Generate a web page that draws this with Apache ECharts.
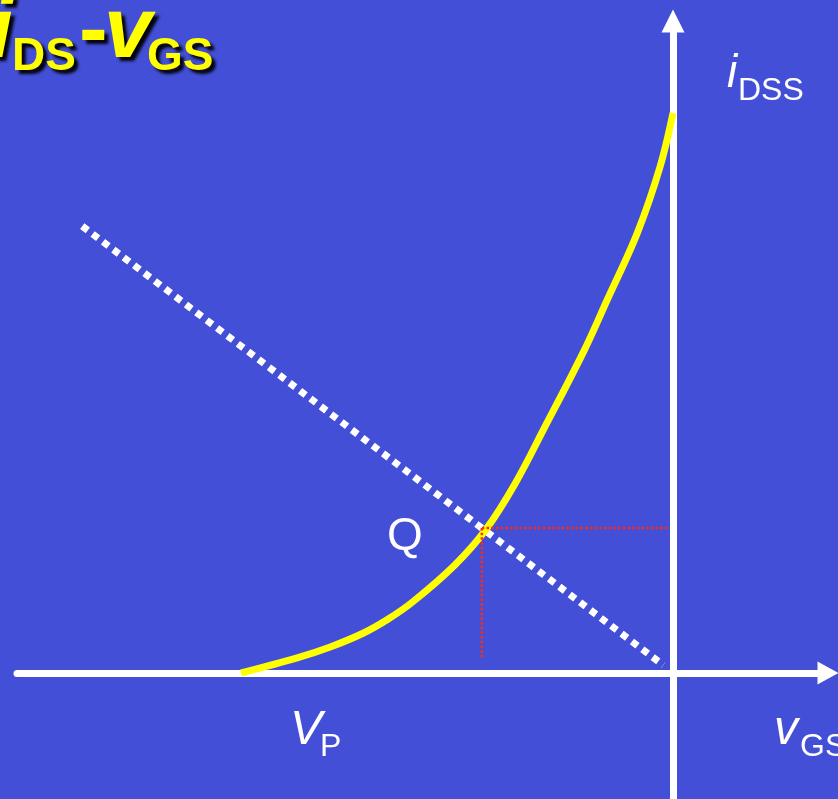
<!DOCTYPE html>
<html>
<head>
<meta charset="utf-8">
<script src="https://cdn.jsdelivr.net/npm/echarts@6/dist/echarts.min.js"></script>
<style>
  html, body { margin: 0; padding: 0; background: #434fd6; }
  #chart { width: 838px; height: 799px; }
</style>
</head>
<body>
<div id="chart"></div>
<script>
// Transfer characteristic iDS(vGS) of a JFET: gate voltage in V (VP = -4 V), drain current in mA (IDSS = 10 mA)
const vgs = [-4, -3.48, -3.18, -2.87, -2.64, -2.41, -2.02, -1.73, -1.46, -1.19, -0.83, -0.61, -0.33, -0.12, 0];
const ids = [0, 0.27, 0.46, 0.71, 0.96, 1.27, 1.93, 2.57, 3.39, 4.38, 5.73, 6.66, 7.86, 9.04, 10];

// Bias (load) line end points
const biasV = [-5.47, -0.09];
const biasI = [7.98, 0.14];

// Operating point Q and the ends of its projection lines
const qPoint = [-1.77, 2.59];
const qDropTo = 0.27;   // lower end of the vertical projection (mA)
const qRightTo = -0.05; // right end of the horizontal projection (V)

// Axis ranges
const xMin = -6.074, xMax = 1.435;
const yMin = -2.25, yMax = 11.643;

const bg = '#434fd6';
const yellow = '#ffff00';
const white = '#ffffff';
const red = '#ff2a10';

const chart = echarts.init(document.getElementById('chart'), null, { renderer: 'canvas' });

// text element placed by its alphabetic baseline
function label(text, x, baseline, size, opts) {
  opts = opts || {};
  const font = (opts.italic ? 'italic ' : '') + (opts.bold ? 'bold ' : '') + size + 'px "Liberation Sans", Arial, sans-serif';
  const style = {
    text: text,
    font: font,
    fill: opts.fill || white,
    textAlign: opts.align || 'left',
    align: opts.align || 'left',
    textVerticalAlign: 'top',
    verticalAlign: 'top',
    lineHeight: size
  };
  if (opts.shadow) {
    style.textShadowColor = 'rgba(0,0,0,0.95)';
    style.textShadowOffsetX = 4;
    style.textShadowOffsetY = 4;
    style.textShadowBlur = 3;
  }
  return { type: 'text', x: x, y: baseline - 0.85 * size, z: 100, silent: true, style: style };
}

const graphics = [
  // title
  label('i', 13, 63, 86, { italic: true, bold: true, fill: yellow, align: 'right', shadow: true }),
  label('DS', 12, 73, 46, { bold: true, fill: yellow, shadow: true }),
  label('-', 79, 63, 86, { bold: true, fill: yellow, shadow: true }),
  label('v', 104, 63, 86, { italic: true, bold: true, fill: yellow, shadow: true }),
  label('GS', 147, 73, 46, { bold: true, fill: yellow, shadow: true }),
  // axis names
  label('i', 727, 90, 46, { italic: true }),
  label('DSS', 738, 102, 32),
  label('V', 290, 747, 48, { italic: true }),
  label('P', 320, 758, 32),
  label('v', 774, 747, 48, { italic: true }),
  label('GS', 800, 758, 32),
  // operating point
  label('Q', 387, 553, 46)
];

const dotted = { color: red, width: 2.5, type: [2.5, 2.2], cap: 'butt' };

const option = {
  backgroundColor: bg,
  animation: false,
  grid: { left: 17, right: 10, top: 21, bottom: 0, containLabel: false },
  xAxis: {
    type: 'value',
    min: xMin,
    max: xMax,
    axisLine: {
      onZero: true,
      lineStyle: { color: white, width: 7 },
      symbol: ['none', 'triangle'],
      symbolSize: [23, 21]
    },
    axisTick: { show: false },
    axisLabel: { show: false },
    splitLine: { show: false }
  },
  yAxis: {
    type: 'value',
    min: yMin,
    max: yMax,
    axisLine: {
      onZero: true,
      lineStyle: { color: white, width: 7 },
      symbol: ['none', 'triangle'],
      symbolSize: [23, 23]
    },
    axisTick: { show: false },
    axisLabel: { show: false },
    splitLine: { show: false }
  },
  series: [
    {
      name: 'bias line',
      type: 'line',
      silent: true,
      symbol: 'none',
      z: 3,
      data: biasV.map((v, i) => [v, biasI[i]]),
      lineStyle: { color: white, width: 7, type: [7, 6], cap: 'butt' }
    },
    {
      name: 'iDS',
      type: 'line',
      silent: true,
      symbol: 'none',
      smooth: 0.35,
      z: 4,
      data: vgs.map((v, i) => [v, ids[i]]),
      lineStyle: { color: yellow, width: 7, cap: 'butt' }
    },
    {
      name: 'Q vertical',
      type: 'line',
      silent: true,
      symbol: 'none',
      z: 5,
      data: [[qPoint[0], qPoint[1]], [qPoint[0], qDropTo]],
      lineStyle: dotted
    },
    {
      name: 'Q horizontal',
      type: 'line',
      silent: true,
      symbol: 'none',
      z: 5,
      data: [[qPoint[0], qPoint[1]], [qRightTo, qPoint[1]]],
      lineStyle: dotted
    }
  ],
  graphic: graphics
};

chart.setOption(option);
</script>
</body>
</html>
